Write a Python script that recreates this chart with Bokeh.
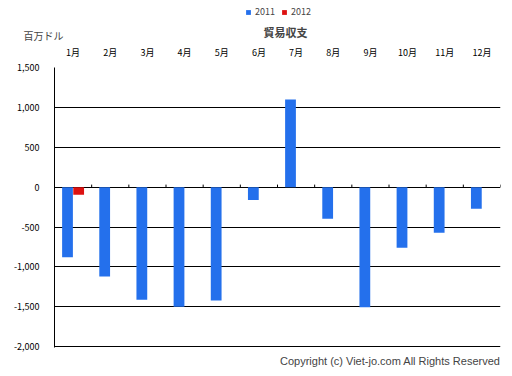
from bokeh.plotting import figure
from bokeh.layouts import column
from bokeh.models import (ColumnDataSource, FactorRange, Range1d, LinearAxis, CategoricalAxis,
                          Label, Legend, LegendItem, NumeralTickFormatter, FixedTicker, Title)
from bokeh.transform import dodge
from bokeh.embed import file_html
from bokeh.resources import INLINE

months = ["1月", "2月", "3月", "4月", "5月", "6月", "7月", "8月", "9月", "10月", "11月", "12月"]
values_2011 = [-880, -1120, -1410, -1500, -1420, -160, 1100, -395, -1505, -760, -570, -270]
months_2012 = ["1月"]
values_2012 = [-95]
y_ticks = [-2000, -1500, -1000, -500, 0, 500, 1000, 1500]
series_names = ["2011", "2012"]

FONT = "Noto Sans CJK JP"
BLUE = "#2470ec"
RED = "#dd1111"
HEADER_H = 42

# ---------- header: legend, title, unit ----------
h = figure(width=512, height=HEADER_H, output_backend="svg", toolbar_location=None,
           x_range=Range1d(0, 512), y_range=Range1d(HEADER_H, 0),
           x_axis_location=None, y_axis_location=None, min_border=0)
h.frame_align = False
h.outline_line_color = None
h.grid.grid_line_color = None
# zero-size proxies that only carry the legend swatch styles
lr11 = h.vbar(x=[0], top=[0], bottom=[0], width=0, fill_color=BLUE, line_color=None)
lr12 = h.vbar(x=[0], top=[0], bottom=[0], width=0, fill_color=RED, line_color=None)
legend = Legend(items=[LegendItem(label=series_names[0], renderers=[lr11]),
                       LegendItem(label=series_names[1], renderers=[lr12])],
                orientation="horizontal", location=(245, 24),
                glyph_width=6, glyph_height=6, label_standoff=4, spacing=6,
                padding=0, margin=0, border_line_color=None, background_fill_alpha=0,
                label_text_font=FONT, label_text_font_size="9px", label_height=10,
                label_width=10)
h.add_layout(legend, "center")
h.add_layout(Label(x=285, y=31, text="貿易収支", text_font=FONT, text_font_size="11px",
                   text_font_style="bold", text_align="center", text_baseline="middle"))
h.add_layout(Label(x=23, y=35, text="百万ドル", text_font=FONT, text_font_size="10px",
                   text_align="left", text_baseline="middle"))

# ---------- main chart ----------
p = figure(width=512, height=376 - HEADER_H, output_backend="svg", toolbar_location=None,
           x_range=FactorRange(*months, range_padding=0), y_range=Range1d(-2010, 1500),
           x_axis_location=None, y_axis_location=None,
           min_border_left=54, min_border_right=12, min_border_top=67 - HEADER_H,
           min_border_bottom=29)
p.frame_align = False
p.outline_line_color = None

src11 = ColumnDataSource(dict(month=months, value=values_2011))
src12 = ColumnDataSource(dict(month=months_2012, value=values_2012))

p.vbar(x=dodge("month", -0.15, range=p.x_range), top="value", bottom=0, width=0.29,
       source=src11, fill_color=BLUE, line_color=None)
p.vbar(x=dodge("month", 0.15, range=p.x_range), top="value", bottom=0, width=0.29,
       source=src12, fill_color=RED, line_color=None)

yaxis = LinearAxis(ticker=FixedTicker(ticks=y_ticks),
                   formatter=NumeralTickFormatter(format="0,0"))
yaxis.axis_line_color = "black"
yaxis.major_tick_line_color = None
yaxis.minor_tick_line_color = None
yaxis.major_label_text_font = FONT
yaxis.major_label_text_font_size = "9px"
yaxis.major_label_text_color = "black"
yaxis.major_label_standoff = 9
p.add_layout(yaxis, "left")

xaxis = CategoricalAxis()
xaxis.axis_line_color = None
xaxis.major_tick_line_color = None
xaxis.minor_tick_line_color = None
xaxis.major_label_text_font = FONT
xaxis.major_label_text_font_size = "9px"
xaxis.major_label_text_color = "black"
xaxis.major_label_standoff = 3
p.add_layout(xaxis, "above")

p.ygrid.ticker = FixedTicker(ticks=y_ticks)
p.ygrid.grid_line_color = "black"
p.ygrid.grid_line_width = 1
p.xgrid.grid_line_color = None

# zero-line tick marks at category boundaries
p.segment(x0=dodge("month", 0.5, range=p.x_range), y0=0,
          x1=dodge("month", 0.5, range=p.x_range), y1=32,
          source=src11, line_color="black", line_width=1)

p.add_layout(Title(text="Copyright (c) Viet-jo.com All Rights Reserved", align="right",
                   text_font="Liberation Sans", text_font_size="11px",
                   text_font_style="normal", standoff=11), "below")

layout = column(h, p, spacing=0)
open("out.html", "w").write(file_html(layout, INLINE))
